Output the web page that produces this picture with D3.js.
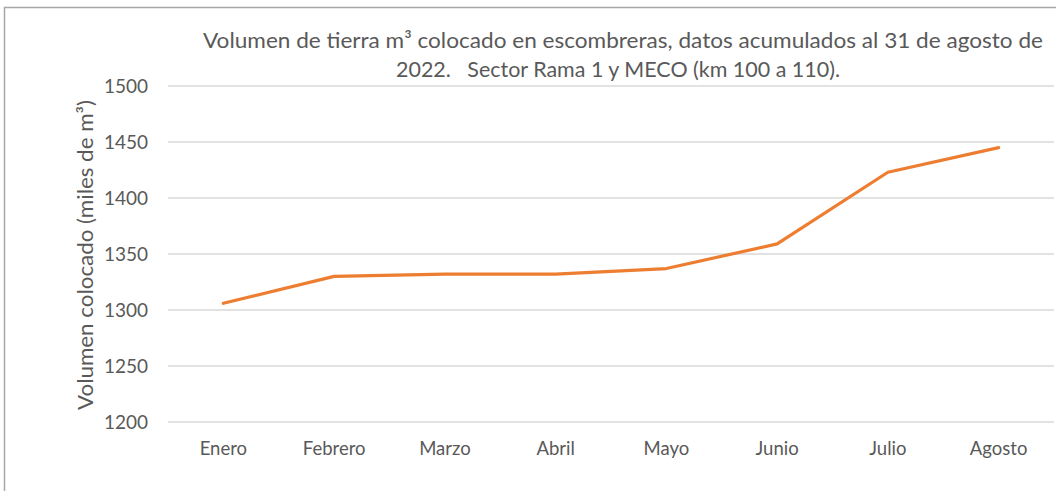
<!DOCTYPE html>
<html><head><meta charset="utf-8">
<script src="https://cdn.jsdelivr.net/npm/d3@7"></script>
<style>html,body{margin:0;padding:0;background:#fff;}svg{display:block;font-family:Lato,"Open Sans",sans-serif;}</style>
</head><body>
<svg id="c" width="1056" height="491"></svg>
<script>
const months = ["Enero","Febrero","Marzo","Abril","Mayo","Junio","Julio","Agosto"];
const volumes = [1306, 1330, 1332, 1332, 1337, 1359, 1423, 1445];
const yTicks = [1200, 1250, 1300, 1350, 1400, 1450, 1500];
const titleLines = ["Volumen de tierra m³ colocado en escombreras, datos acumulados al 31 de agosto de",
                    "2022.   Sector Rama 1 y MECO (km 100 a 110)."];
const yTitle = "Volumen colocado (miles de m³)";

const svg = d3.select("#c");
const W = 1056, H = 491;
const m = {left: 168, right: 2, top: 86, bottom: 69};

// outer chart border
svg.append("path").attr("d", `M4.5,${H} V7.5 H${W}`).attr("fill","none").attr("stroke","#a6a6a6").attr("stroke-width",1.5);

const x = d3.scaleBand().domain(months).range([m.left, W - m.right]);
const y = d3.scaleLinear().domain([1200, 1500]).range([H - m.bottom, m.top]);

// gridlines
svg.append("g").selectAll("line").data(yTicks).join("line")
  .attr("x1", m.left).attr("x2", W - m.right)
  .attr("y1", d => y(d)).attr("y2", d => y(d))
  .attr("stroke", "#d9d9d9").attr("stroke-width", 1.5);

// y axis labels
const ya = svg.append("g").attr("transform", `translate(${m.left},0)`)
  .call(d3.axisLeft(y).tickValues(yTicks).tickSize(0).tickPadding(20).tickFormat(d3.format("d")));
ya.select(".domain").remove();
ya.selectAll("text").attr("fill","#595959").style("font-size","19px").style("font-family","Lato");

// x axis labels
const xa = svg.append("g").attr("transform", `translate(0,${H - m.bottom})`)
  .call(d3.axisBottom(x).tickSize(0).tickPadding(20));
xa.select(".domain").remove();
xa.selectAll("text").attr("fill","#595959").style("font-size","18.5px").style("font-family","Lato");

// line
const line = d3.line().x((d,i) => x(months[i]) + x.bandwidth()/2).y(d => y(d));
svg.append("path").datum(volumes).attr("d", line)
  .attr("fill","none").attr("stroke","#ED7D31").attr("stroke-width",3.2)
  .attr("stroke-linejoin","round").attr("stroke-linecap","round");

// title
svg.append("text").attr("x", 623).attr("y", 48).attr("text-anchor","middle")
  .attr("textLength", 840).attr("lengthAdjust","spacingAndGlyphs")
  .attr("fill","#595959").style("font-size","21.5px").text(titleLines[0]);
svg.append("text").attr("x", 618).attr("y", 77).attr("text-anchor","middle")
  .attr("textLength", 444).attr("lengthAdjust","spacingAndGlyphs")
  .attr("fill","#595959").style("font-size","21.5px").style("white-space","pre").attr("xml:space","preserve").text(titleLines[1]);

// y title
svg.append("text").attr("transform", `translate(93,255) rotate(-90)`).attr("text-anchor","middle")
  .attr("textLength", 310).attr("lengthAdjust","spacingAndGlyphs")
  .attr("fill","#595959").style("font-size","21px").text(yTitle);
</script>
</body></html>
